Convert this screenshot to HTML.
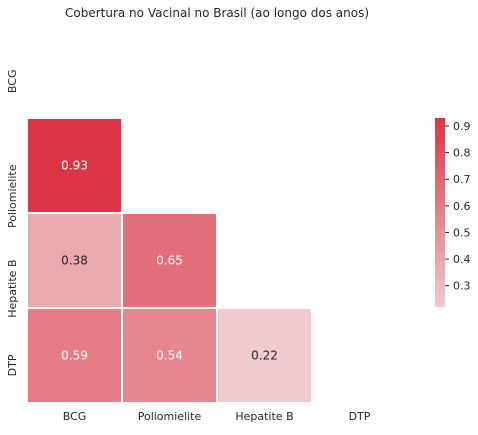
<!DOCTYPE html>
<html><head><meta charset="utf-8"><style>
body{margin:0;background:#fff;font-family:"Liberation Sans","DejaVu Sans",sans-serif;}
</style></head><body>
<svg width="478" height="430" xmlns="http://www.w3.org/2000/svg" font-family="DejaVu Sans, Liberation Sans, sans-serif">
<defs><linearGradient id="cb" x1="0" y1="1" x2="0" y2="0"><stop offset="0" stop-color="#eecbcd"/><stop offset="1" stop-color="#dc3545"/></linearGradient></defs>
<text x="217" y="17" text-anchor="middle" font-size="12" fill="#262626">Cobertura no Vacinal no Brasil (ao longo dos anos)</text>
<g id="cells"></g>
<g id="labels"></g>
<rect x="435" y="118" width="10" height="189" fill="url(#cb)"/>
<g id="cbticks"></g>
</svg>
<script>
const categories=["BCG","Poliomielite","Hepatite B","DTP"];
const values=[[1,null,null,null],[0.93,1,null,null],[0.38,0.65,1,null],[0.59,0.54,0.22,1]];
const cbTicks=[0.3,0.4,0.5,0.6,0.7,0.8,0.9];
const vmin=0.22,vmax=0.93;
const x0=27,y0=23,cw=95,ch=95;
const lo=[238,203,205],hi=[220,53,69];
function color(v){const t=Math.max(0,Math.min(1,(v-vmin)/(vmax-vmin)));return `rgb(${lo.map((l,i)=>Math.round(l+(hi[i]-l)*t)).join(',')})`;}
const ns="http://www.w3.org/2000/svg";
const cells=document.getElementById('cells'),labels=document.getElementById('labels'),cbt=document.getElementById('cbticks');
values.forEach((row,i)=>row.forEach((v,j)=>{
 if(j>=i||v==null)return;
 const r=document.createElementNS(ns,'rect');
 
 
 r.setAttribute('x',x0+j*cw);r.setAttribute('y',y0+i*ch);r.setAttribute('width',cw);r.setAttribute('height',ch);
 r.setAttribute('fill',color(v));r.setAttribute('stroke','#fff');r.setAttribute('stroke-width','2');
 cells.appendChild(r);
 const t=document.createElementNS(ns,'text');
 
 
 t.setAttribute('x',x0+j*cw+cw/2);t.setAttribute('y',y0+i*ch+ch/2+4);t.setAttribute('text-anchor','middle');t.setAttribute('font-size','12');
 t.setAttribute('fill',v>0.5?'#fff':'#262626');t.textContent=v.toFixed(2);cells.appendChild(t);
}));
categories.forEach((c,k)=>{
 const t=document.createElementNS(ns,'text');
 
 
 t.setAttribute('x',x0+k*cw+cw/2);t.setAttribute('y',420);t.setAttribute('text-anchor','middle');t.setAttribute('font-size','11');t.setAttribute('fill','#262626');t.textContent=c;labels.appendChild(t);
 const y=document.createElementNS(ns,'text');
 
 
 const cy=y0+k*ch+ch/2-1;
 y.setAttribute('transform',`translate(16,${cy}) rotate(-90)`);y.setAttribute('text-anchor','end');y.setAttribute('font-size','11');y.setAttribute('fill','#262626');y.textContent=c;labels.appendChild(y);
});
cbTicks.forEach(v=>{
 const y=307-(v-vmin)/(vmax-vmin)*189;
 const l=document.createElementNS(ns,'line');
 
 
 l.setAttribute('x1',445);l.setAttribute('x2',449);l.setAttribute('y1',y);l.setAttribute('y2',y);l.setAttribute('stroke','#262626');cbt.appendChild(l);
 const t=document.createElementNS(ns,'text');
 
 
 t.setAttribute('x',453);t.setAttribute('y',y+4);t.setAttribute('font-size','11');t.setAttribute('fill','#262626');t.textContent=v.toFixed(1);cbt.appendChild(t);
});
</script>
</body></html>
